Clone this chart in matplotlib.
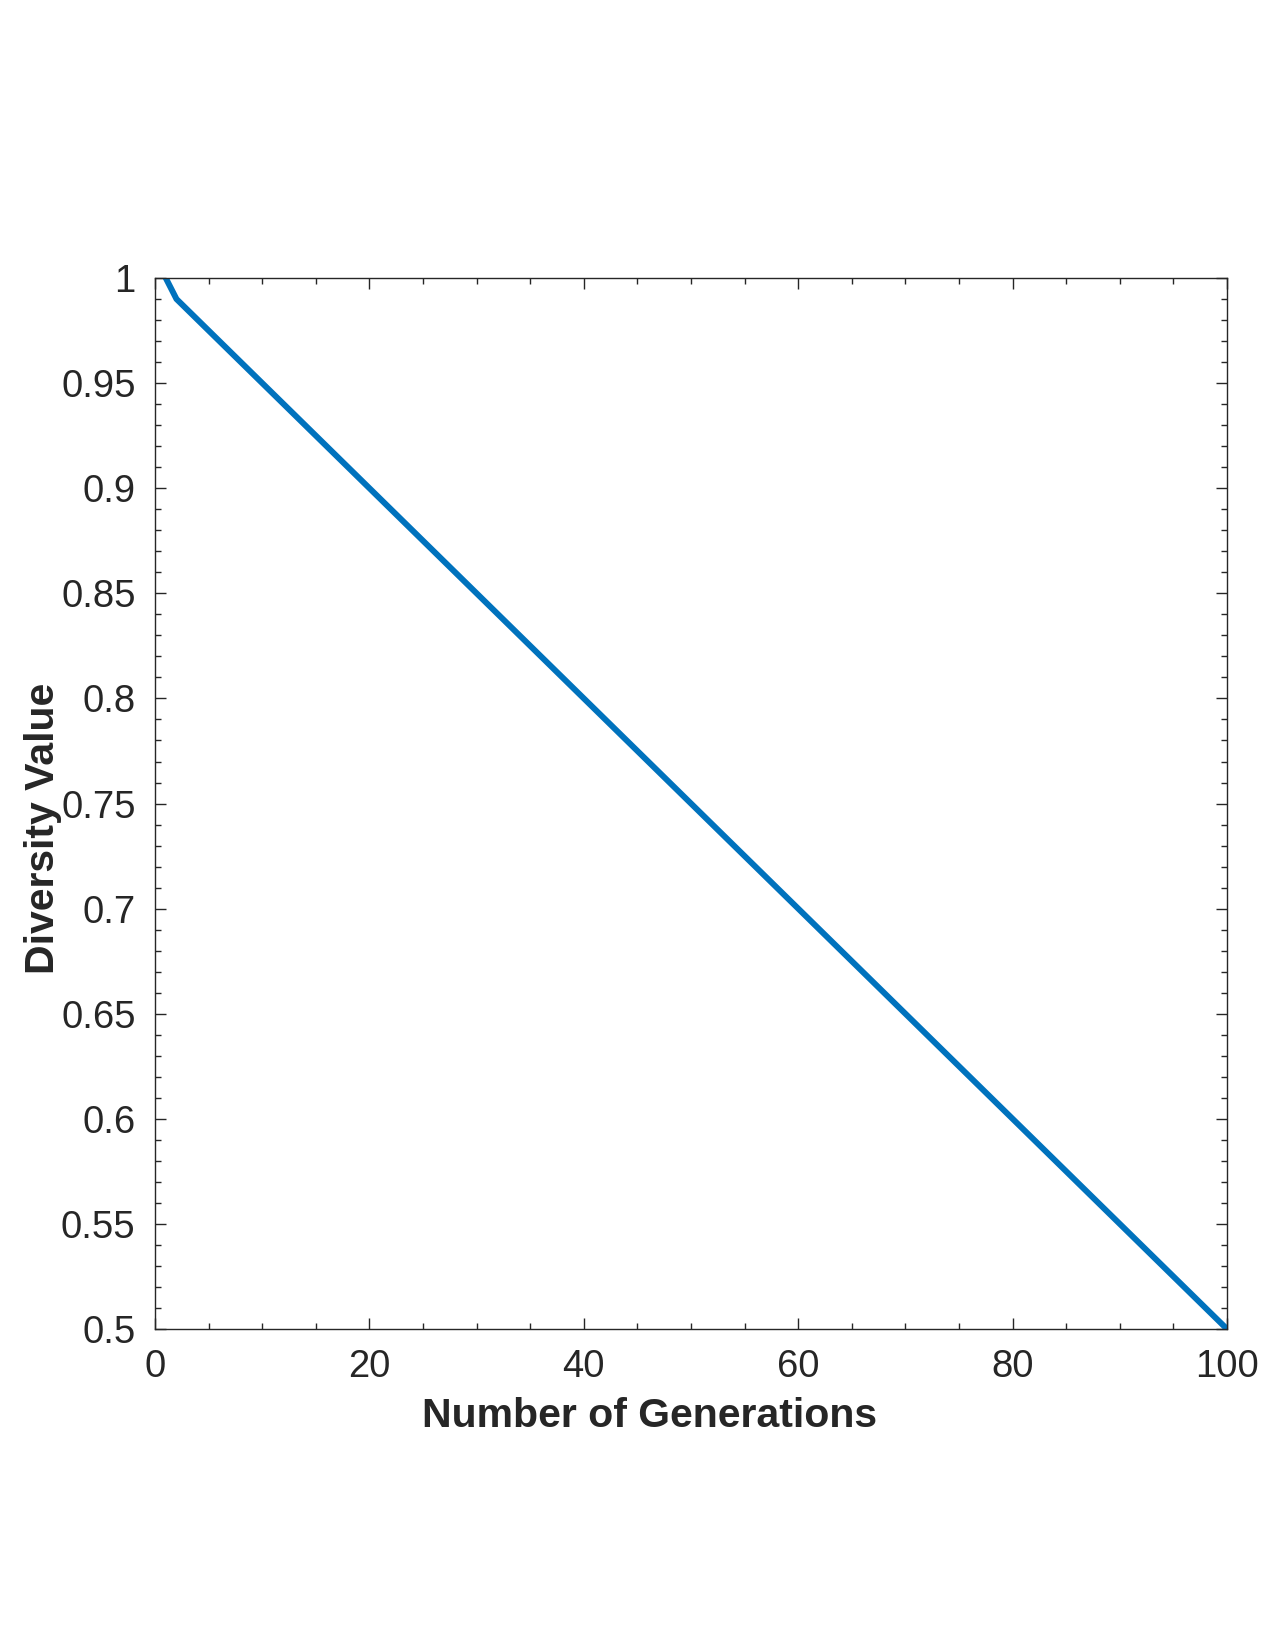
import matplotlib
matplotlib.use("Agg")
import matplotlib.pyplot as plt
from matplotlib.ticker import MultipleLocator

# ===== DATA =====
generations = [1, 2, 100]
diversity = [1.0, 0.99, 0.5]

x_ticks = [0, 20, 40, 60, 80, 100]
y_ticks = [0.5, 0.55, 0.6, 0.65, 0.7, 0.75, 0.8, 0.85, 0.9, 0.95, 1.0]
y_tick_labels = ["0.5", "0.55", "0.6", "0.65", "0.7", "0.75", "0.8", "0.85", "0.9", "0.95", "1"]

# ===== STYLE =====
plt.rcParams["font.family"] = ["Liberation Sans", "DejaVu Sans"]
DARK = "#262626"
BLUE = "#0072BD"

fig = plt.figure(figsize=(12.75, 16.5), dpi=100)
ax = fig.add_axes([0.1216, 0.1945, 0.9624 - 0.1216, 0.8315 - 0.1945])

ax.plot(generations, diversity, color=BLUE, linewidth=4.3, solid_joinstyle="miter")

ax.set_xlim(0, 100)
ax.set_ylim(0.5, 1.0)
ax.set_xticks(x_ticks)
ax.set_xticklabels([str(t) for t in x_ticks])
ax.set_yticks(y_ticks)
ax.set_yticklabels(y_tick_labels)
ax.xaxis.set_minor_locator(MultipleLocator(5))
ax.yaxis.set_minor_locator(MultipleLocator(0.01))

ax.tick_params(which="both", direction="in", top=True, right=True,
               colors=DARK, width=1.0, labelsize=27.5, labelcolor=DARK)
ax.tick_params(which="major", length=8, pad=14)
ax.tick_params(which="minor", length=4)
for s in ax.spines.values():
    s.set_color(DARK)
    s.set_linewidth(1.0)

# labels placed like the original (slightly off-centre)
fig.text(649.5 / 1275, 1 - 1416 / 1650, "Number of Generations", fontsize=29.5,
         fontweight="bold", color=DARK, ha="center", va="center")
fig.text(43 / 1275, 1 - 828.5 / 1650, "Diversity Value", fontsize=29.5,
         fontweight="bold", color=DARK, ha="center", va="center", rotation=90)

fig.savefig("out.png", dpi=100, facecolor="white")
